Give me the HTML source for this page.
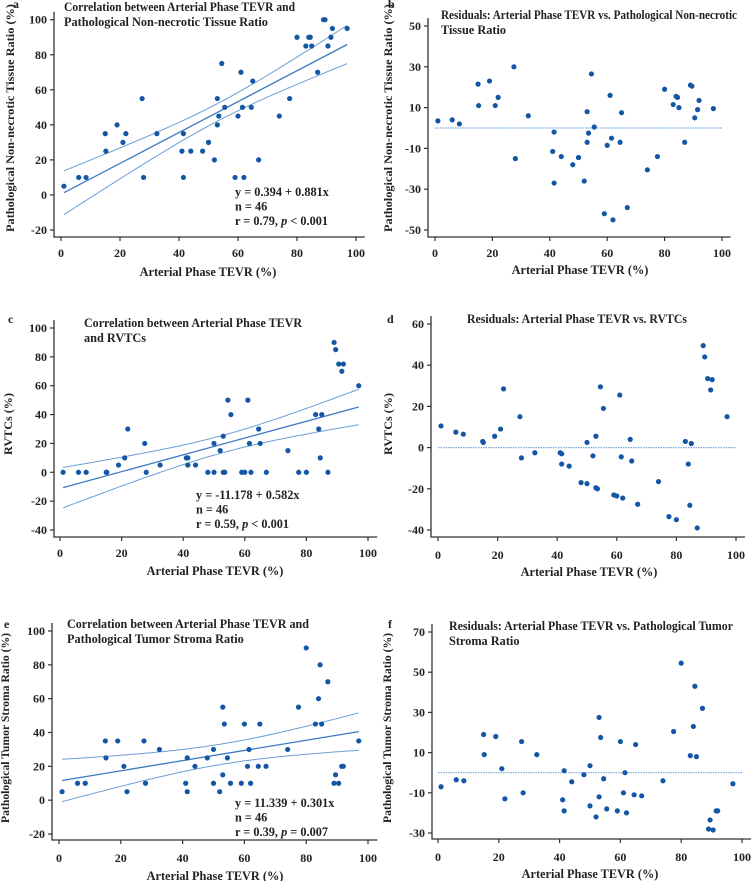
<!DOCTYPE html>
<html><head><meta charset="utf-8"><style>
html,body{margin:0;padding:0;background:#fff}
svg text{font-family:"Liberation Serif",serif;font-weight:bold;fill:#222}
</style></head><body>
<svg id="fig" width="753" height="881" viewBox="0 0 753 881" xmlns="http://www.w3.org/2000/svg"></svg>
<script>
const tevr=[1,6,8.5,15,15.2,19,21,22,27.5,28,32.5,41,41.5,41.5,44,48,50,50,52,53,53,53.5,54.5,55.5,59,60,61,61.5,62,64.5,65,67,74,77.5,80,83,84,84.5,85,87,89,89.5,90.5,91.5,92,97];
const aY=[5,10,10,35,25,40,30,35,55,10,35,25,35,10,25,25,30,30,20,55,40,45,75,50,10,45,70,50,10,50,65,20,45,55,90,85,90,90,85,70,100,100,85,90,95,95];
const bY=[3.5,4,2,21.5,11,23,11,15,30,-15,6,-11.5,-2,-27,-14,-18,-14.5,-14.5,-26,8,-7,-2.5,26.5,0.5,-42,-8.5,16,-5,-45,-7,7.5,-39,-20.5,-14,19,11.5,15.5,15,10,-7,21,20.5,5,9,13.5,9.5];
const cY=[0,0,0,0,0,5,10,30,20,0,5,10,10,5,5,0,0,20,15,25,0,0,50,40,0,0,50,20,0,30,20,0,15,0,0,40,30,10,40,0,90,85,75,70,75,60];
const dY=[10.5,7.5,6.5,3,2.5,5.5,9,28.5,15,-5,-2.5,-2.5,-3,-8,-9,-17,-17.5,2.5,-4,5.5,-19.5,-20,29.5,19,-23,-23.5,25.5,-4.5,-24.5,4,-6.5,-27.5,-16.5,-33.5,-35,3,-8,-28,2,-39,49.5,44,33.5,28,33,15];
const eY=[5,10,10,35,25,35,20,5,35,10,30,10,5,25,20,25,30,10,5,55,15,45,25,10,10,45,20,30,10,20,45,20,30,55,90,45,60,80,45,70,10,15,10,20,20,35];
const fY=[-7,-3.5,-4,19,9,18,2,-13,15.5,-10,9,-13.5,-19,1,-4.5,-1,3.5,-16.5,-22,27.5,-12,17.5,-3,-18,-19,15.5,-10,0,-20,-11,14,-11.5,-4,20.5,54.5,8.5,23,43,8,32,-28,-23.5,-28.5,-19,-19,-5.5];
const xTicks=[0,20,40,60,80,100];
const aTicks=[-20,0,20,40,60,80,100], bTicks=[-50,-30,-10,10,30,50];
const cTicks=[-40,-20,0,20,40,60,80,100], dTicks=[-40,-20,0,20,40,60];
const eTicks=[-20,0,20,40,60,80,100], fTicks=[-30,-10,10,30,50,70];
const aFit=[0.394,0.881], cFit=[-11.178,0.582], eFit=[11.339,0.301];
const aBand=[5,12.5], cBand=[6,14], eBand=[6,12.5];

const NS="http://www.w3.org/2000/svg", svg=document.getElementById('fig');
function mk(tag,at,parent,txt){const e=document.createElementNS(NS,tag);for(const k in at)e.setAttribute(k,at[k]);if(txt!==undefined)e.textContent=txt;(parent||svg).appendChild(e);return e;}

const panels=[
 {id:'a',ys:aY,ticks:aTicks,x0:61,x1:356,v0:-20,p0:230,v1:100,p1:19.7,ax:54,by:237,fit:aFit,band:aBand,
  label:[13,8],title:['Correlation between Arterial Phase TEVR and','Pathological Non-necrotic Tissue Ratio'],tl:231,tx:64,ty:11,
  eq:['y = 0.394 + 0.881x','n = 46','r = 0.79, ','p',' < 0.001'],ex:235,ey:196,ytitle:'Pathological Non-necrotic Tissue Ratio (%)',yl:228,ytx:14,yty:118,xtx:208,xty:276,tly:257},
 {id:'b',ys:bY,ticks:bTicks,x0:435,x1:722,v0:-50,p0:230,v1:50,p1:26,ax:428,by:237,
  label:[388,8],title:['Residuals: Arterial Phase TEVR vs. Pathological Non-necrotic','Tissue Ratio'],tl:296,tx:441,ty:19,
  ytitle:'Pathological Non-necrotic Tissue Ratio (%)',yl:228,ytx:392,yty:118,xtx:580,xty:274,tly:257},
 {id:'c',ys:cY,ticks:cTicks,x0:60,x1:368,v0:-40,p0:530,v1:100,p1:328,ax:54,by:537,fit:cFit,band:cBand,
  label:[8,323],title:['Correlation between Arterial Phase TEVR','and RVTCs'],tl:218,tx:84,ty:327,
  eq:['y = -11.178 + 0.582x','n = 46','r = 0.59, ','p',' < 0.001'],ex:196,ey:499,ytitle:'RVTCs (%)',yl:62,ytx:12,yty:424,xtx:215,xty:575,tly:557},
 {id:'d',ys:dY,ticks:dTicks,x0:438,x1:736,v0:-40,p0:530,v1:60,p1:324,ax:431,by:537,
  label:[387,323],title:['Residuals: Arterial Phase TEVR  vs. RVTCs'],tl:220,tx:467,ty:323,
  ytitle:'RVTCs (%)',yl:62,ytx:392,yty:424,xtx:589,xty:576,tly:559},
 {id:'e',ys:eY,ticks:eTicks,x0:59,x1:368,v0:-20,p0:834,v1:100,p1:631,ax:52,by:840,fit:eFit,band:eBand,
  label:[4,628],title:['Correlation between Arterial Phase TEVR and','Pathological Tumor Stroma Ratio'],tl:242,tx:67,ty:628,
  eq:['y = 11.339 + 0.301x','n = 46','r = 0.39, ','p',' = 0.007'],ex:235,ey:807,ytitle:'Pathological Tumor Stroma Ratio (%)',yl:190,ytx:9,yty:728,xtx:215,xty:880,tly:862},
 {id:'f',ys:fY,ticks:fTicks,x0:438,x1:742,v0:-30,p0:833,v1:70,p1:632,ax:432,by:839,
  label:[388,628],title:['Residuals: Arterial Phase TEVR  vs. Pathological Tumor','Stroma Ratio'],tl:284,tx:449,ty:630,
  ytitle:'Pathological Tumor Stroma Ratio (%)',yl:190,ytx:391,yty:728,xtx:590,xty:878,tly:861}
];

panels.forEach(p=>{
  const g=mk('g',{});
  
  
  const X=v=>p.x0+(v)*(p.x1-p.x0)/100;
  const Y=v=>p.p0+(v-p.v0)*(p.p1-p.p0)/(p.v1-p.v0);
  const xEnd=X(103);
  const yTop=Y(p.ticks[p.ticks.length-1])-8;
  const ax=mk('path',{d:`M${p.ax},${yTop}V${p.by}H${xEnd}`,fill:'none',stroke:'#333','stroke-width':1.3},g);
  
  
  p.ticks.forEach(t=>{
    mk('line',{x1:p.ax-4,x2:p.ax,y1:Y(t),y2:Y(t),stroke:'#333','stroke-width':1.2},g);
    const tl=mk('text',{x:p.ax-7,y:Y(t)+4,'text-anchor':'end','font-size':12},g,t);
    
    
  });
  xTicks.forEach(t=>{
    mk('line',{x1:X(t),x2:X(t),y1:p.by,y2:p.by+4,stroke:'#333','stroke-width':1.2},g);
    const tl=mk('text',{x:X(t),y:p.tly,'text-anchor':'middle','font-size':12},g,t);
    
    
  });
  if(p.fit){
    const xs=[];for(let v=1;v<=97;v+=1)xs.push(v);
    const xm=53;
    const c=(p.band[1]**2-p.band[0]**2)/(52*52);
    const hw=v=>Math.sqrt(p.band[0]**2+c*(v-xm)**2);
    const f=v=>p.fit[0]+p.fit[1]*v;
    const up=xs.map((v,i)=>(i?'L':'M')+X(v).toFixed(1)+','+Y(f(v)+hw(v)).toFixed(1)).join('');
    const lo=xs.map((v,i)=>(i?'L':'M')+X(v).toFixed(1)+','+Y(f(v)-hw(v)).toFixed(1)).join('');
    const u=mk('path',{d:up,fill:'none',stroke:'#6b9fd6','stroke-width':1},g);
    
    
    const l=mk('path',{d:lo,fill:'none',stroke:'#6b9fd6','stroke-width':1},g);
    
    
    const fl=mk('line',{x1:X(1),y1:Y(f(1)),x2:X(97),y2:Y(f(97)),stroke:'#3d79c2','stroke-width':1.3},g);
    
    
  } else {
    const zl=mk('line',{x1:X(0),y1:Y(0),x2:X(100),y2:Y(0),stroke:'#7aa8de','stroke-width':1.2,'stroke-dasharray':'1.5,1'},g);
    
    
  }
  tevr.forEach((v,i)=>{
    const pt=mk('circle',{cx:X(v),cy:Y(p.ys[i]),r:2.6,fill:'#1456a6'},g);
    
    
  });
  const lb=mk('text',{x:p.label[0],y:p.label[1],'font-size':12},g,p.id);
  
  
  p.title.forEach((t,i)=>{
    const at={x:p.tx,y:p.ty+i*15,'font-size':12.3};
    if(i===0){at.textLength=p.tl;at.lengthAdjust='spacingAndGlyphs';}
    const tt=mk('text',at,g,t);
    
    
  });
  if(p.eq){
    const e1=mk('text',{x:p.ex,y:p.ey,'font-size':12.3},g,p.eq[0]);
    
    
    const e2=mk('text',{x:p.ex,y:p.ey+14.5,'font-size':12.3},g,p.eq[1]);
    
    
    const e3=mk('text',{x:p.ex,y:p.ey+29,'font-size':12.3},g);
    
    
    mk('tspan',{},e3,p.eq[2]);mk('tspan',{'font-style':'italic'},e3,p.eq[3]);mk('tspan',{},e3,p.eq[4]);
  }
  const yt=mk('text',{x:0,y:0,'font-size':12,'text-anchor':'middle',textLength:p.yl,lengthAdjust:'spacingAndGlyphs',transform:`translate(${p.ytx},${p.yty}) rotate(-90)`},g,p.ytitle);
  
  
  const xt=mk('text',{x:p.xtx,y:p.xty,'font-size':12.3,'text-anchor':'middle'},g,'Arterial Phase TEVR (%)');
  
  
});
</script>
</body></html>
